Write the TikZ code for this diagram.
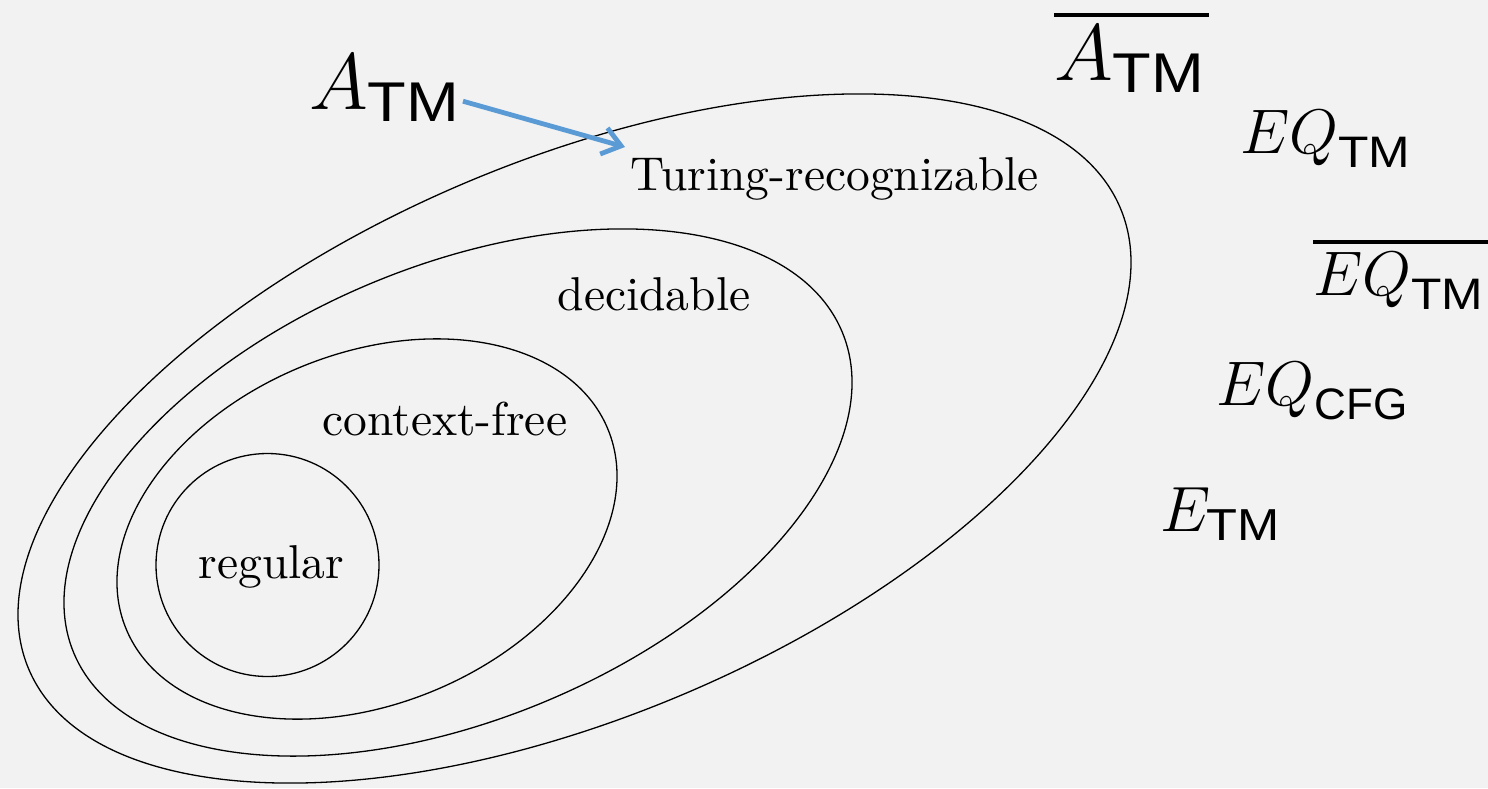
\RequirePackage{fix-cm}
\documentclass[tikz,border=0pt]{standalone}
\usepackage{amsmath}
\usepackage{graphicx}
\usepackage{fontspec}
\setmainfont{lmroman10-regular}[Extension=.otf]
\setsansfont{Liberation Sans}
\usetikzlibrary{arrows.meta}
\definecolor{bg}{HTML}{F2F2F2}
\definecolor{arrowblue}{HTML}{5B9BD5}
\newcommand{\subTM}{\text{\scalebox{1.13}[1]{\sffamily TM}}}
\newcommand{\subCFG}{\text{\sffamily CFG}}
% overline: #1 rule thickness, #2 gap, #3 math content
\newcommand{\barover}[3]{\vbox{\hrule height #1\kern #2\hbox{$#3$\kern 4pt}}}
\begin{document}
\begin{tikzpicture}[x=1pt,y=1pt,
  setline/.style={line width=1.3pt, draw=black},
  setlabel/.style={font=\fontsize{47.5}{57}\selectfont, anchor=base, inner sep=0pt},
  mathlabel/.style={anchor=base west, inner sep=0pt},
  bigmath/.style={font=\fontsize{80}{96}\selectfont},
  midmath/.style={font=\fontsize{63}{76}\selectfont},
]
\fill[bg] (0,0) rectangle (1488,-788);
\useasboundingbox (0,0) rectangle (1488,-788);
\begin{scope}
\clip (0,0) rectangle (1488,-788);
% nested sets
\draw[setline, rotate around={22.9:(574.5,-438.5)}] (574.5,-438.5) ellipse (592.5 and 278);
\draw[setline, rotate around={22.7:(458,-492.5)}] (458,-492.5) ellipse (416.4 and 226.5);
\draw[setline, rotate around={22.6:(367,-529)}] (367,-529) ellipse (260.8 and 175);
\draw[setline] (267.5,-565) circle (111.5);
% set labels
\node[setlabel] (turing) at (835,-190) {Turing-recognizable};
\node[setlabel] (decid) at (654,-310) {decidable};
\node[setlabel] (cfree) at (445,-435) {context-free};
\node[setlabel] (reg) at (271.5,-578) {regular};
% languages
\node[mathlabel, bigmath] (atm) at (309,-109) {$A_{\subTM}$};
\node[mathlabel, bigmath] (coatm) at (1054,-80) {\barover{4.5pt}{8pt}{A_{\subTM}}};
\node[mathlabel, midmath] (eqtm) at (1240,-153) {${EQ}_{\subTM}$};
\node[mathlabel, midmath] (coeqtm) at (1313,-295) {\barover{4pt}{8pt}{{EQ}_{\subTM}}};
\node[mathlabel, midmath] (eqcfg) at (1216,-405) {${EQ}_{\subCFG}$};
\node[mathlabel, font=\fontsize{64}{77}\selectfont] (etm) at (1160,-531) {$E_{\subTM}$};
% arrow
\coordinate (tip) at (625,-147);
\draw[line width=4.8pt, arrowblue, -{Straight Barb[length=18pt,width=27pt]}]
  ([xshift=3pt,yshift=20pt]atm.south east) -- (tip);
\end{scope}
\end{tikzpicture}
\end{document}
